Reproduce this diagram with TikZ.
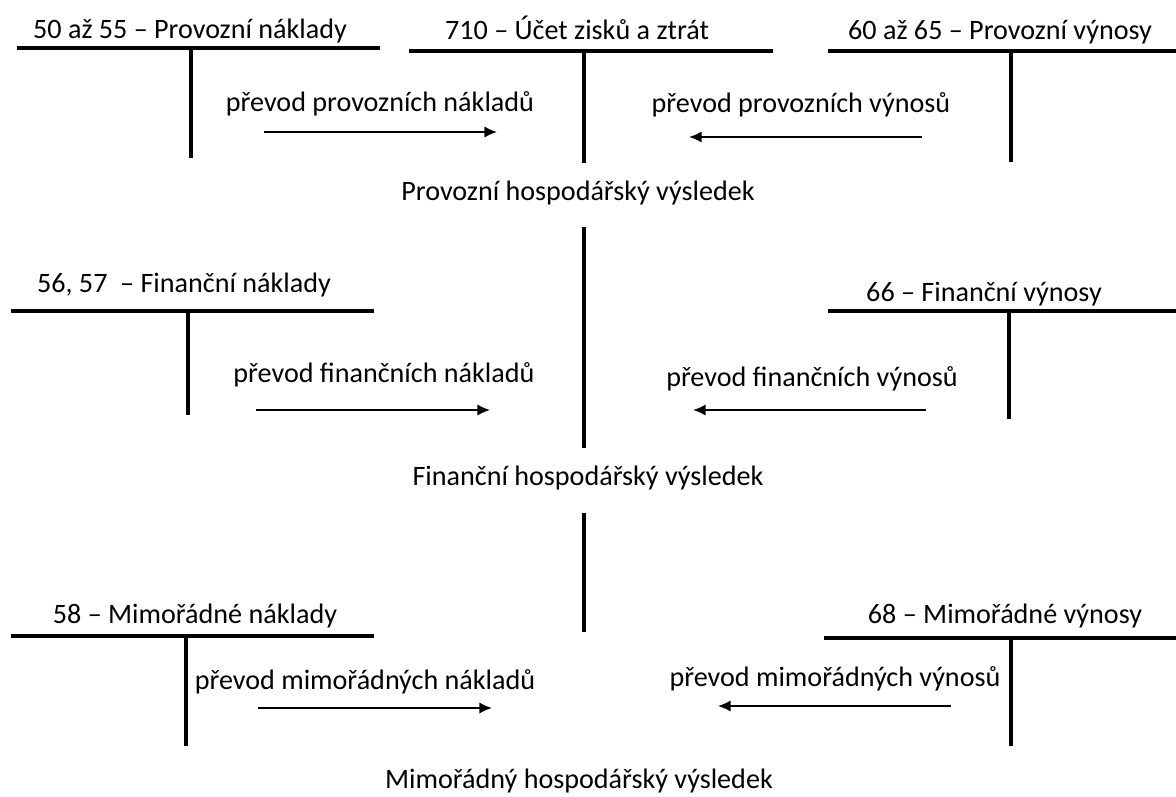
\documentclass[tikz,border=0pt]{standalone}
\usepackage{fontspec}
\setmainfont{Carlito}
\usetikzlibrary{arrows.meta}

\begin{document}
\begin{tikzpicture}[x=0.025cm,y=-0.025cm,
  ucet/.style={line width=2.2pt},
  prevod/.style={line width=1.1pt,-{Latex[length=9pt,width=8pt]}},
  popis/.style={font=\fontsize{20}{24}\selectfont,inner sep=0pt,anchor=base}]
\useasboundingbox (0,0) rectangle (1176,796);

\node[popis] (pn) at (190,38) {50 až 55 -- Provozní náklady};
\node[popis] (zz) at (577,39) {710 -- Účet zisků a ztrát};
\node[popis] (pv) at (1000,39) {60 až 65 -- Provozní výnosy};
\draw[ucet] (17,48) -- (380,48);
\draw[ucet] (191,48) -- (191,158);
\draw[ucet] (409,51) -- (773,51);
\draw[ucet] (584,51) -- (584,163);
\draw[ucet] (828,51) -- (1176,51);
\draw[ucet] (1011,51) -- (1011,162);

\node[popis] (ppn) at (380,111) {převod provozních nákladů};
\node[popis] (ppv) at (801,112) {převod provozních výnosů};
\coordinate (ppnA) at (264,132);
\coordinate (ppnB) at (497,132);
\coordinate (ppvA) at (922,137);
\coordinate (ppvB) at (689,137);
\draw[prevod] (ppnA) -- (ppnB);
\draw[prevod] (ppvA) -- (ppvB);

\node[popis] (phv) at (578,200) {Provozní hospodářský výsledek};
\draw[ucet] (584,227) -- (584,448);

\node[popis] (fn) at (184,292) {56, 57\ \ -- Finanční náklady};
\node[popis] (fv) at (984,301) {66 -- Finanční výnosy};
\draw[ucet] (11,311) -- (374,311);
\draw[ucet] (188,311) -- (188,415);
\draw[ucet] (828,311) -- (1176,311);
\draw[ucet] (1009,311) -- (1009,419);

\node[popis] (pfn) at (384,382) {převod finančních nákladů};
\node[popis] (pfv) at (812,386) {převod finančních výnosů};
\coordinate (pfnA) at (256,410);
\coordinate (pfnB) at (490,410);
\coordinate (pfvA) at (926,410);
\coordinate (pfvB) at (693,410);
\draw[prevod] (pfnA) -- (pfnB);
\draw[prevod] (pfvA) -- (pfvB);

\node[popis] (fhv) at (588,485) {Finanční hospodářský výsledek};
\draw[ucet] (584,513) -- (584,632);

\node[popis] (mn) at (195,623) {58 -- Mimořádné náklady};
\node[popis] (mv) at (1005,623) {68 -- Mimořádné výnosy};
\draw[ucet] (11,636) -- (374,636);
\draw[ucet] (186,636) -- (186,746);
\draw[ucet] (824,638) -- (1176,638);
\draw[ucet] (1011,638) -- (1011,746);

\node[popis] (pmn) at (365,689) {převod mimořádných nákladů};
\node[popis] (pmv) at (835,686) {převod mimořádných výnosů};
\coordinate (pmnA) at (258,708);
\coordinate (pmnB) at (492,708);
\coordinate (pmvA) at (951,706);
\coordinate (pmvB) at (718,706);
\draw[prevod] (pmnA) -- (pmnB);
\draw[prevod] (pmvA) -- (pmvB);

\node[popis] (mhv) at (579,788) {Mimořádný hospodářský výsledek};

\end{tikzpicture}
\end{document}
